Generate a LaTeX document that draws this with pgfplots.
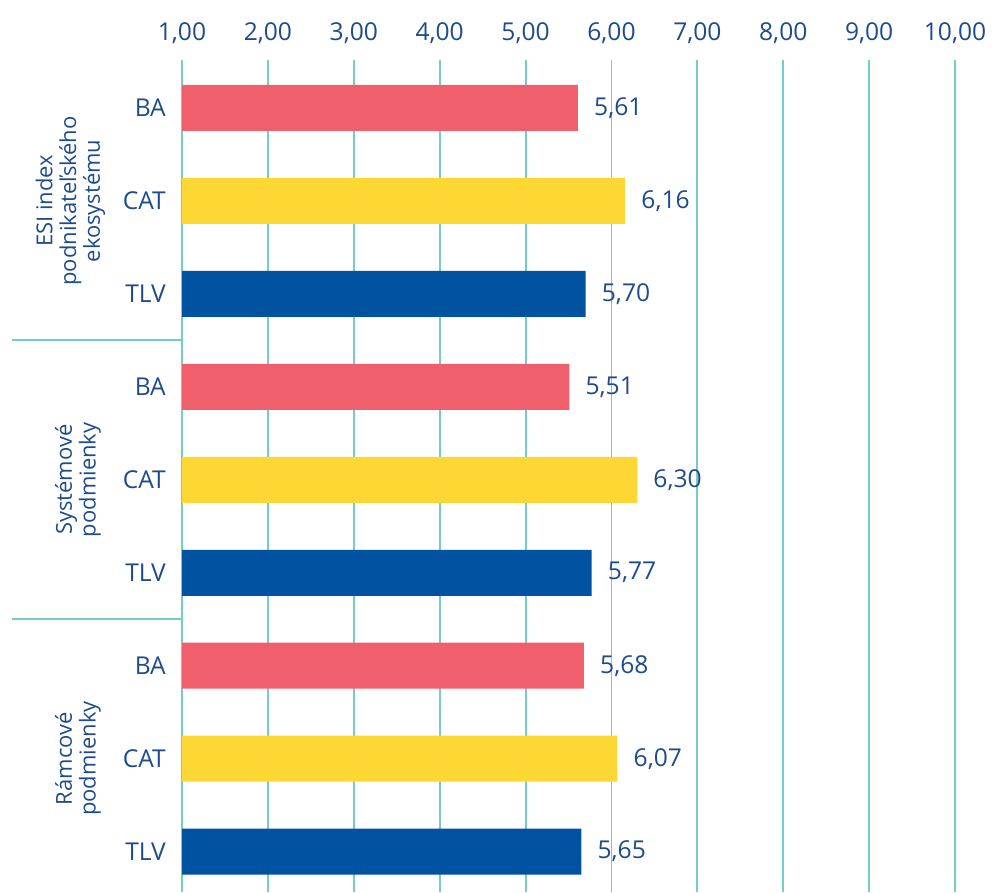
\documentclass[border=0pt]{standalone}
\usepackage{pgfplots}
\pgfplotsset{compat=1.18}
\usepackage{fontspec}
\setmainfont{Open Sans}

\definecolor{barred}{HTML}{F0606C}
\definecolor{baryel}{HTML}{FDD733}
\definecolor{barblue}{HTML}{0152A1}
\definecolor{gridteal}{HTML}{72CFC2}
\definecolor{txtblue}{HTML}{1D4B8D}

\pgfplotsset{
  /pgf/number format/.cd, fixed, fixed zerofill, precision=2, use comma,
  assume math mode=true,
}

\begin{document}
\begin{tikzpicture}
\begin{axis}[
    scale only axis,
    width=15.46cm, height=16.64cm,
    xmin=1, xmax=10,
    ymin=-0.52, ymax=8.43,
    y dir=reverse,
    xbar, bar width=0.92cm, bar shift=0pt,
    clip mode=individual,
    axis line style={draw=none},
    major tick length=0pt,
    xtick={1,...,10},
    xticklabel pos=upper,
    xmajorgrids,
    major grid style={gridteal, line width=1.1pt},
    ytick={0,...,8},
    yticklabels={BA,CAT,TLV,BA,CAT,TLV,BA,CAT,TLV},
    tick label style={font=\fontsize{14}{16}\selectfont, text=txtblue},
    x tick label style={yshift=0.2cm},
    y tick label style={xshift=-0.2cm},
    nodes near coords={\pgfmathprintnumber{\pgfplotspointmeta}},
    nodes near coords style={font=\fontsize{14}{16}\selectfont, text=txtblue,
        anchor=west, xshift=0.2cm},
]
% BA rows
\addplot[draw=none, fill=barred] coordinates {(5.61,0) (5.51,3) (5.68,6)};
% CAT rows
\addplot[draw=none, fill=baryel] coordinates {(6.16,1) (6.30,4) (6.07,7)};
% TLV rows
\addplot[draw=none, fill=barblue] coordinates {(5.70,2) (5.77,5) (5.65,8)};

% page frame, same margins as the original
\path (axis cs:-1.119,-1.161) rectangle (axis cs:10.465,8.43);

% group separators
\draw[gridteal, line width=1.1pt] (axis cs:-0.98,2.5) -- (axis cs:1,2.5);
\draw[gridteal, line width=1.1pt] (axis cs:-0.98,5.5) -- (axis cs:1,5.5);

% group labels
\tikzset{grp/.style={rotate=90, align=center, text=txtblue,
    font=\fontsize{12.5}{13.5}\selectfont}}
\node[grp] at (axis cs:-0.30,1) {ESI index\\podnikateľského\\ekosystému};
\node[grp] at (axis cs:-0.21,4) {Systémové\\podmienky};
\node[grp] at (axis cs:-0.21,7) {Rámcové\\podmienky};
\end{axis}
\end{tikzpicture}
\end{document}
